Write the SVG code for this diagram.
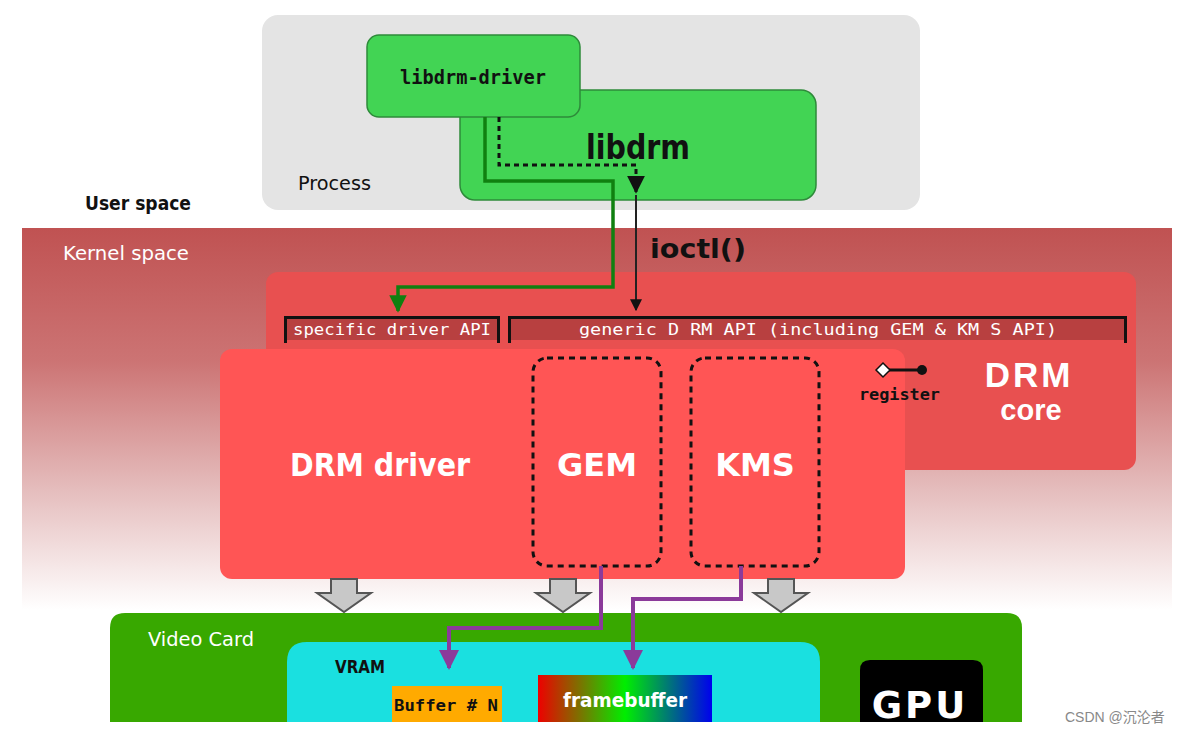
<svg xmlns="http://www.w3.org/2000/svg" width="1180" height="734" viewBox="0 0 1180 734">
<defs>
<linearGradient id="kg" x1="0" y1="0" x2="0" y2="1">
<stop offset="0" stop-color="#c05252"/>
<stop offset="0.35" stop-color="#cc7474"/>
<stop offset="0.7" stop-color="#e6c0c0"/>
<stop offset="1" stop-color="#ffffff"/>
</linearGradient>
<linearGradient id="fb" x1="0" y1="0" x2="1" y2="0">
<stop offset="0" stop-color="#ee0000"/>
<stop offset="0.5" stop-color="#00ee00"/>
<stop offset="1" stop-color="#0000ee"/>
</linearGradient>
<marker id="ab" viewBox="0 0 10 10" refX="9" refY="5" markerWidth="6" markerHeight="6" orient="auto"><path d="M0,0 L10,5 L0,10 z" fill="#111"/></marker>
<marker id="ag" viewBox="0 0 10 10" refX="9" refY="5" markerWidth="5" markerHeight="5" orient="auto"><path d="M0,0 L10,5 L0,10 z" fill="#108010"/></marker>
<marker id="ap" viewBox="0 0 10 10" refX="9" refY="5" markerWidth="5" markerHeight="5" orient="auto"><path d="M0,0 L10,5 L0,10 z" fill="#8b3a9a"/></marker>
<style>
.sans{font-family:"DejaVu Sans","Liberation Sans",sans-serif}
.lib{font-family:"Liberation Sans",Arial,sans-serif}
.mono{font-family:"DejaVu Sans Mono","Liberation Mono",monospace}
.w{fill:#fff}
.k{fill:#111}
.bar{fill:#b84040}
.brk{fill:none;stroke:#111;stroke-width:3}
.dash{fill:none;stroke:#111;stroke-width:3;stroke-dasharray:6,5}
.garr{fill:#c8c8c8;stroke:#555;stroke-width:2}
.purp{fill:none;stroke:#8b3a9a;stroke-width:4}
</style>
</defs>
<rect width="1180" height="734" fill="#fff"/>
<g id="kernel-space">
<rect x="22" y="228" width="1150" height="382" fill="url(#kg)"/>
<text class="sans w" x="63" y="260" font-size="19" textLength="126" lengthAdjust="spacingAndGlyphs">Kernel space</text>
</g>
<g id="user-space">
<text class="sans k" x="85" y="210" font-size="19" font-weight="bold" textLength="106" lengthAdjust="spacingAndGlyphs">User space</text>
</g>
<g id="process">
<rect x="262" y="15" width="658" height="195" rx="16" fill="#e4e4e4"/>
<text class="sans k" x="298" y="190" font-size="20" textLength="73" lengthAdjust="spacingAndGlyphs">Process</text>
</g>
<g id="libdrm">
<rect x="460" y="90" width="356" height="110" rx="15" fill="#42d454" stroke="#2e8a3a" stroke-width="1.5"/>
<text class="sans k" x="586" y="159" font-size="33" font-weight="bold" textLength="104" lengthAdjust="spacingAndGlyphs">libdrm</text>
</g>
<g id="libdrm-driver">
<rect x="367" y="35" width="213" height="82" rx="12" fill="#42d454" stroke="#2e8a3a" stroke-width="1.5"/>
<text class="mono k" x="400" y="84" font-size="20" font-weight="bold" textLength="146" lengthAdjust="spacingAndGlyphs">libdrm-driver</text>
</g>
<g id="drm-core">
<rect x="266" y="272" width="870" height="198" rx="12" fill="#e85050"/>
<text class="lib w" x="1029" y="387" font-size="35" font-weight="bold" text-anchor="middle" letter-spacing="3">DRM</text>
<text class="lib w" x="1031" y="420" font-size="29" font-weight="bold" text-anchor="middle">core</text>
</g>
<g id="specific-driver-api">
<rect x="284" y="317" width="216" height="23" class="bar"/>
<path d="M285.5,343 V317.5 H498.5 V343" class="brk"/>
<text class="mono w" x="293" y="335" font-size="15" textLength="198" lengthAdjust="spacingAndGlyphs">specific driver API</text>
</g>
<g id="generic-drm-api">
<rect x="508" y="317" width="619" height="23" class="bar"/>
<path d="M509.5,343 V317.5 H1125.5 V343" class="brk"/>
<text class="mono w" x="579" y="335" font-size="15" textLength="478" lengthAdjust="spacingAndGlyphs">generic D RM API (including GEM &amp; KM S API)</text>
</g>
<g id="drm-driver">
<rect x="220" y="349" width="685" height="230" rx="12" fill="#ff5555"/>
<text class="sans w" x="380" y="476" font-size="32" font-weight="bold" text-anchor="middle" textLength="180" lengthAdjust="spacingAndGlyphs">DRM driver</text>
</g>
<g id="gem">
<rect x="533" y="358" width="128" height="208" rx="14" class="dash"/>
<text class="sans w" x="597" y="476" font-size="32" font-weight="bold" text-anchor="middle">GEM</text>
</g>
<g id="kms">
<rect x="691" y="358" width="128" height="208" rx="14" class="dash"/>
<text class="sans w" x="755" y="476" font-size="32" font-weight="bold" text-anchor="middle">KMS</text>
</g>
<g id="register">
<line x1="883" y1="370" x2="921" y2="370" stroke="#111" stroke-width="3"/>
<path d="M876,370 L883,363 L890,370 L883,377 z" fill="#fff" stroke="#111" stroke-width="1.5"/>
<circle cx="922" cy="370" r="5" fill="#111"/>
<text class="mono k" x="859" y="400" font-size="15" font-weight="bold" textLength="81" lengthAdjust="spacingAndGlyphs">register</text>
</g>
<g id="video-card">
<path d="M110,722 V628 Q110,613 125,613 H1007 Q1022,613 1022,628 V722 z" fill="#38a800"/>
<text class="sans w" x="148" y="646" font-size="19" textLength="106" lengthAdjust="spacingAndGlyphs">Video Card</text>
</g>
<g id="vram">
<path d="M287,722 V662 Q287,642 307,642 H800 Q820,642 820,662 V722 z" fill="#1ae0e0"/>
<text class="sans k" x="335" y="673" font-size="18" font-weight="bold" textLength="50" lengthAdjust="spacingAndGlyphs">VRAM</text>
</g>
<g id="buffer-n">
<rect x="392" y="686" width="110" height="36" fill="#ffaa00"/>
<text class="mono k" x="394" y="711" font-size="16" font-weight="bold" textLength="104" lengthAdjust="spacingAndGlyphs">Buffer # N</text>
</g>
<g id="framebuffer">
<rect x="538" y="675" width="174" height="47" fill="url(#fb)"/>
<text class="sans w" x="563" y="707" font-size="20" font-weight="bold" textLength="124" lengthAdjust="spacingAndGlyphs">framebuffer</text>
</g>
<g id="gpu">
<path d="M860,722 V670 Q860,660 870,660 H973 Q983,660 983,670 V722 z" fill="#000"/>
<text class="sans w" x="920" y="718" font-size="37" font-weight="bold" text-anchor="middle" letter-spacing="3">GPU</text>
</g>
<g id="connectors">
<path d="M485,117 V181 H613 V287 H398 V311" fill="none" stroke="#108010" stroke-width="3.5" marker-end="url(#ag)"/>
<path d="M499,117 V165 H636 V192" fill="none" stroke="#111" stroke-width="3" stroke-dasharray="5,4" marker-end="url(#ab)"/>
<path d="M636,195 V310" fill="none" stroke="#222" stroke-width="2" marker-end="url(#ab)"/>
<text class="sans k" x="650" y="258" font-size="27" font-weight="bold" textLength="96" lengthAdjust="spacingAndGlyphs">ioctl()</text>
<path d="M601,566 V628 H449 V668" class="purp" marker-end="url(#ap)"/>
<path d="M741,566 V599 H633 V668" class="purp" marker-end="url(#ap)"/>
<path d="M331,579 H357 V593 H371 L344,612 L317,593 H331 z" class="garr"/>
<path d="M550,579 H576 V593 H590 L563,612 L536,593 H550 z" class="garr"/>
<path d="M768,579 H794 V593 H808 L781,612 L754,593 H768 z" class="garr"/>
</g>
<text x="1065" y="722" font-size="14" fill="#888" font-family="Liberation Sans,Noto Sans CJK SC,sans-serif">CSDN @沉沦者</text>
</svg>
